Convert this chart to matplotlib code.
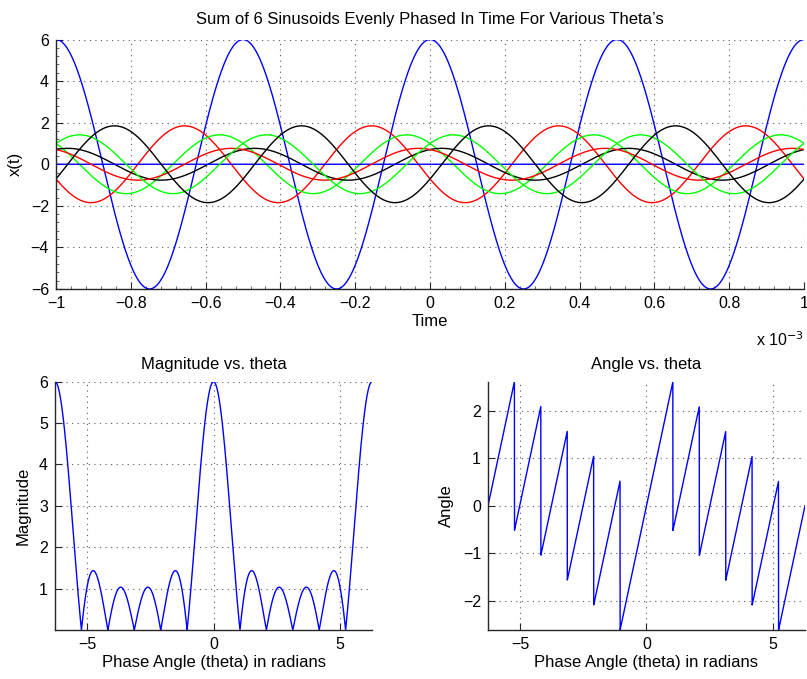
import matplotlib
matplotlib.use('Agg')
import matplotlib.pyplot as plt
import numpy as np
from matplotlib.ticker import AutoMinorLocator, FuncFormatter

plt.rcParams['font.family'] = ['Liberation Sans', 'DejaVu Sans']

# signal settings
n_sin = 6
freq = 2000.0  # Hz, period 0.5e-3 s
t_range = [-1e-3, 1e-3]
thetas = [0, np.pi / 4, np.pi / 2, 3 * np.pi / 4, np.pi, 5 * np.pi / 4, 3 * np.pi / 2, 7 * np.pi / 4]
colors = ['#0000ff', '#ff0000', '#00ff00', '#000000', '#0000ff', '#ff0000', '#00ff00', '#000000']
theta_range = [-2 * np.pi, 2 * np.pi]

t_ticks = [-1, -0.8, -0.6, -0.4, -0.2, 0, 0.2, 0.4, 0.6, 0.8, 1]
x_ticks_top = [-6, -4, -2, 0, 2, 4, 6]
mag_ticks = [1, 2, 3, 4, 5, 6]
ang_ticks = [-2, -1, 0, 1, 2]
th_ticks = [-5, 0, 5]

t = np.linspace(t_range[0], t_range[1], 1500)
th = np.linspace(theta_range[0], theta_range[1], 3002)
k = np.arange(n_sin)
X = np.exp(1j * np.outer(th, k)).sum(axis=1)
mag = np.abs(X)
ang = np.angle(X)


def fmt(v):
    s = '%g' % v
    return s.replace('-', '\u2212')


def style(ax, minor=False):
    for s in ['top', 'right']:
        ax.spines[s].set_visible(False)
    for s in ['left', 'bottom']:
        ax.spines[s].set_color('0.15')
        ax.spines[s].set_linewidth(1.0)
    ax.tick_params(direction='in', length=5, width=0.8, color='0.15', labelsize=11.5, pad=5)
    ax.tick_params(which='minor', direction='in', length=2.5, width=0.6, color='0.3')
    ax.grid(True, which='major', linestyle=(0, (1, 4)), color='0.35', linewidth=0.8)
    ax.set_axisbelow(True)
    if minor:
        ax.xaxis.set_minor_locator(AutoMinorLocator(5))
        ax.yaxis.set_minor_locator(AutoMinorLocator(5))
    ax.yaxis.set_major_formatter(FuncFormatter(lambda v, p: fmt(v)))


fig = plt.figure(figsize=(8.07, 6.79), dpi=100)

ax1 = fig.add_axes([0.0694, 0.5744, 0.927, 0.3674])
for th_i, c in zip(thetas, colors):
    x = np.zeros_like(t)
    for kk in range(n_sin):
        x += np.cos(2 * np.pi * freq * t + kk * th_i)
    ax1.plot(t, x, color=c, lw=1.0)
ax1.set_xlim(t_range)
ax1.set_ylim(-6, 6)
ax1.set_xticks(np.array(t_ticks) * 1e-3)
ax1.set_yticks(x_ticks_top)
style(ax1, minor=True)
ax1.xaxis.set_major_formatter(FuncFormatter(lambda v, p: fmt(round(v * 1e3, 3)) if abs(v) > 1e-12 else '0'))
ax1.set_title("Sum of 6 Sinusoids Evenly Phased In Time For Various Theta\u2019s", fontsize=12, pad=11)
ax1.set_xlabel('Time', fontsize=12, labelpad=2)
ax1.set_ylabel('x(t)', fontsize=12, labelpad=6)
ax1.text(1.0, -0.165, r'x 10$^{-3}$', transform=ax1.transAxes, ha='right', va='top', fontsize=11.5)

ax2 = fig.add_axes([0.0682, 0.0722, 0.3928, 0.3657])
ax2.plot(th, mag, color='#0000ff', lw=1.0)
ax2.set_xlim(theta_range)
ax2.set_ylim(mag.min(), mag.max())
ax2.set_xticks(th_ticks)
ax2.set_yticks(mag_ticks)
style(ax2)
ax2.xaxis.set_major_formatter(FuncFormatter(lambda v, p: fmt(v)))
ax2.set_title('Magnitude vs. theta', fontsize=12, pad=9)
ax2.set_xlabel('Phase Angle (theta) in radians', fontsize=12, labelpad=2)
ax2.set_ylabel('Magnitude', fontsize=12, labelpad=6)

ax3 = fig.add_axes([0.6047, 0.0722, 0.3928, 0.3657])
ax3.plot(th, ang, color='#0000ff', lw=1.0)
ax3.set_xlim(theta_range)
ax3.set_ylim(ang.min(), ang.max())
ax3.set_xticks(th_ticks)
ax3.set_yticks(ang_ticks)
style(ax3)
ax3.xaxis.set_major_formatter(FuncFormatter(lambda v, p: fmt(v)))
ax3.set_title('Angle vs. theta', fontsize=12, pad=9)
ax3.set_xlabel('Phase Angle (theta) in radians', fontsize=12, labelpad=2)
ax3.set_ylabel('Angle', fontsize=12, labelpad=6)

fig.savefig('out.png', dpi=100)
